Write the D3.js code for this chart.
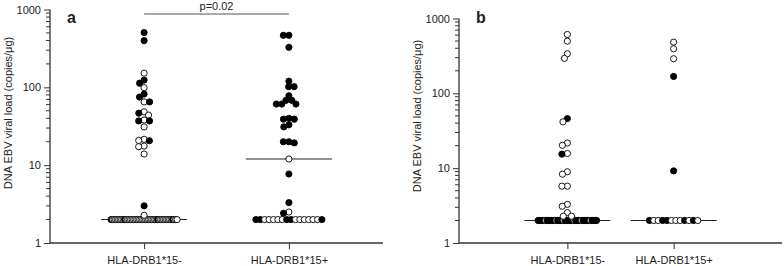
<!DOCTYPE html>
<html>
<head>
<meta charset="utf-8">
<script src="https://cdn.jsdelivr.net/npm/d3@7"></script>
<style>
body { margin: 0; background: #fff; }
svg { display: block; }
text { font-family: "Liberation Sans", Arial, sans-serif; fill: #222; }
</style>
</head>
<body>
<div id="chart"></div>
<script>
const categories = ['HLA-DRB1*15-', 'HLA-DRB1*15+'];
const yTicks = [1, 10, 100, 1000];
const yLabel = 'DNA EBV viral load (copies/μg)';
const pText = 'p=0.02';

// [value, filled]  (1 = black dot, 0 = open dot)
const aNeg = [[505,1],[398,1],[152,0],[124,1],[113,1],[99,0],[75,1],[82,1],[65,0],[65,1],
  [44,0],[48.5,0],[46.5,1],[37,1],[37,1],[38,0],[31,0],[20.6,1],[20.8,0],[21.5,0],
  [17.3,0],[17.6,0],[13.9,0],[3.0,1],[2.27,0]];
const aPos = [[466,1],[466,1],[327,1],[120,1],[102,1],[102,1],[78,1],[68,1],[68,1],
  [61,1],[61,1],[61,1],[40,1],[39,1],[39,1],[33,1],[31,1],[20,1],[20,1],[19.3,1],
  [12,0],[7.7,1],[3.3,1],[2.41,1],[2.5,0]];
const bNeg = [[612,0],[498,0],[338,0],[293,0],[46,1],[41.6,0],[21.7,0],[20.2,0],[15.7,0],
  [15.4,1],[8.95,0],[8.3,0],[5.75,0],[5.75,0],[3.28,0],[3.1,0],[2.55,0],[2.28,0],[2.28,0]];
const bPos = [[483,0],[394,0],[290,0],[168,1],[9.2,1]];

// samples at the detection floor (2 copies/μg), left to right
const floorValue = 2;
const aNegFloor = [1,0,0,0,0,0,0,0,0,1,0,0,0,0,0,0,0,0,0,0,0,0,0,0,0,0,0,0,0,0,0,1,0,0,0,0,0,0,0,0,0,1,0,0,0];
const aPosFloor = [1,1,0,0,0,0,0,1,1,0,0,0,0,0,0,1];
const bNegFloor = [1,1,1,1,1,0,1,1,1,1,1,1,0,1,1,1,1,0,1,1,1,1,1,1,0,1,1,1,1,0,1,1,1,1,1,0,1,1,1,1];
const bPosFloor = [1,0,0,1,1,0,0,0,1,0,1,0];

const aMedians = [2, 12];
const bMedians = [2, 2];

const W = 784, H = 266;
const R = 3.1;

const svg = d3.select('#chart').append('svg')
    .attr('width', W)
    .attr('height', H);

function swarm(pts, y, d) {
    const placed = [];
    pts.map(p => ({ v: p[0], f: p[1] }))
        .sort((a, b) => b.v - a.v)
        .forEach(p => {
            const py = y(p.v);
            const near = placed.filter(q => Math.abs(q.y - py) < d);
            const cands = [0];
            near.forEach(q => {
                const dx = Math.sqrt(d * d - (q.y - py) ** 2);
                cands.push(q.x - dx, q.x + dx);
            });
            cands.sort((a, b) => Math.abs(a) - Math.abs(b) || a - b);
            const x = cands.find(c => near.every(q => (c - q.x) ** 2 + (q.y - py) ** 2 >= d * d - 0.01));
            placed.push({ ...p, x, y: py });
        });
    return placed;
}

function drawPanel(cfg) {
    const g = svg.append('g');
    const x = d3.scalePoint().domain(categories).range([cfg.x0, cfg.x1]).padding(cfg.pad);
    const y = d3.scaleLog().domain([1, 1000]).range([cfg.yBot, cfg.yTop]);

    // y axis with log minor ticks
    const minor = d3.range(1, 1000).filter(v => {
        const e = Math.pow(10, Math.floor(Math.log10(v)));
        return v % e === 0 && v / e !== 1;
    });
    g.selectAll('.minor')
        .data(minor)
        .enter().append('line')
        .attr('x1', cfg.x0 - 4).attr('x2', cfg.x0)
        .attr('y1', d => y(d)).attr('y2', d => y(d))
        .attr('stroke', '#333').attr('stroke-width', 1);

    const yAx = g.append('g')
        .attr('transform', `translate(${cfg.x0},0)`)
        .call(d3.axisLeft(y).tickValues(yTicks).tickFormat(d3.format('d')).tickSize(6).tickPadding(3));
    yAx.select('.domain').attr('stroke', '#333').attr('stroke-width', 1.3).attr('d', `M-0,${cfg.yTop}V${cfg.yBot}`);
    yAx.selectAll('line').attr('stroke', '#333');
    yAx.selectAll('text').style('font-size', '11px').attr('fill', '#222');

    const xAx = g.append('g')
        .attr('transform', `translate(0,${cfg.yBot})`)
        .call(d3.axisBottom(x).tickSize(6).tickPadding(7));
    xAx.select('.domain').attr('stroke', '#333').attr('stroke-width', 1.3).attr('d', `M${cfg.x0},0H${cfg.x1}`);
    xAx.selectAll('line').attr('stroke', '#333');
    xAx.selectAll('text').style('font-size', '11px').attr('fill', '#222');

    g.append('text')
        .attr('transform', `translate(${cfg.labelX},${cfg.labelY}) rotate(-90)`)
        .attr('text-anchor', 'middle')
        .style('font-size', '11px')
        .text(yLabel);

    g.append('text')
        .attr('x', cfg.x0 + 17)
        .attr('y', 23)
        .style('font-size', '16px')
        .style('font-weight', 'bold')
        .attr('fill', '#000')
        .text(cfg.name);

    cfg.groups.forEach((grp, gi) => {
        const cx = x(categories[gi]);

        // median
        g.append('line')
            .attr('x1', cx - 43).attr('x2', cx + 43)
            .attr('y1', y(cfg.medians[gi])).attr('y2', y(cfg.medians[gi]))
            .attr('stroke', '#222').attr('stroke-width', 1.1);

        // floor row
        const n = grp.floor.length;
        const s = n > 25 ? 1.5 : 4.4;
        g.selectAll(null)
            .data(grp.floor)
            .enter().append('circle')
            .attr('cx', (d, i) => cx + (i - (n - 1) / 2) * s)
            .attr('cy', y(floorValue))
            .attr('r', R)
            .attr('fill', d => d ? '#000' : '#fff')
            .attr('stroke', '#000')
            .attr('stroke-width', 0.9);

        const pts = swarm(grp.pts, y, 5.5);
        g.selectAll(null)
            .data(pts)
            .enter().append('circle')
            .attr('cx', d => cx + d.x)
            .attr('cy', d => d.y)
            .attr('r', R)
            .attr('fill', d => d.f ? '#000' : '#fff')
            .attr('stroke', '#000')
            .attr('stroke-width', 0.9);
    });

    if (cfg.p) {
        const px1 = x(categories[0]), px2 = x(categories[1]);
        g.append('line')
            .attr('x1', px1).attr('x2', px2)
            .attr('y1', 14).attr('y2', 14)
            .attr('stroke', '#555').attr('stroke-width', 1);
        g.append('text')
            .attr('x', (px1 + px2) / 2)
            .attr('y', 10)
            .attr('text-anchor', 'middle')
            .style('font-size', '11px')
            .text(cfg.p);
    }
}

drawPanel({
    name: 'a', x0: 50, x1: 383, yTop: 9.5, yBot: 243, pad: 0.65,
    labelX: 12, labelY: 113, medians: aMedians, p: pText,
    groups: [{ pts: aNeg, floor: aNegFloor }, { pts: aPos, floor: aPosFloor }]
});

drawPanel({
    name: 'b', x0: 459, x1: 782, yTop: 18.5, yBot: 243, pad: 1.02,
    labelX: 421, labelY: 116, medians: bMedians, p: null,
    groups: [{ pts: bNeg, floor: bNegFloor }, { pts: bPos, floor: bPosFloor }]
});
</script>
</body>
</html>
